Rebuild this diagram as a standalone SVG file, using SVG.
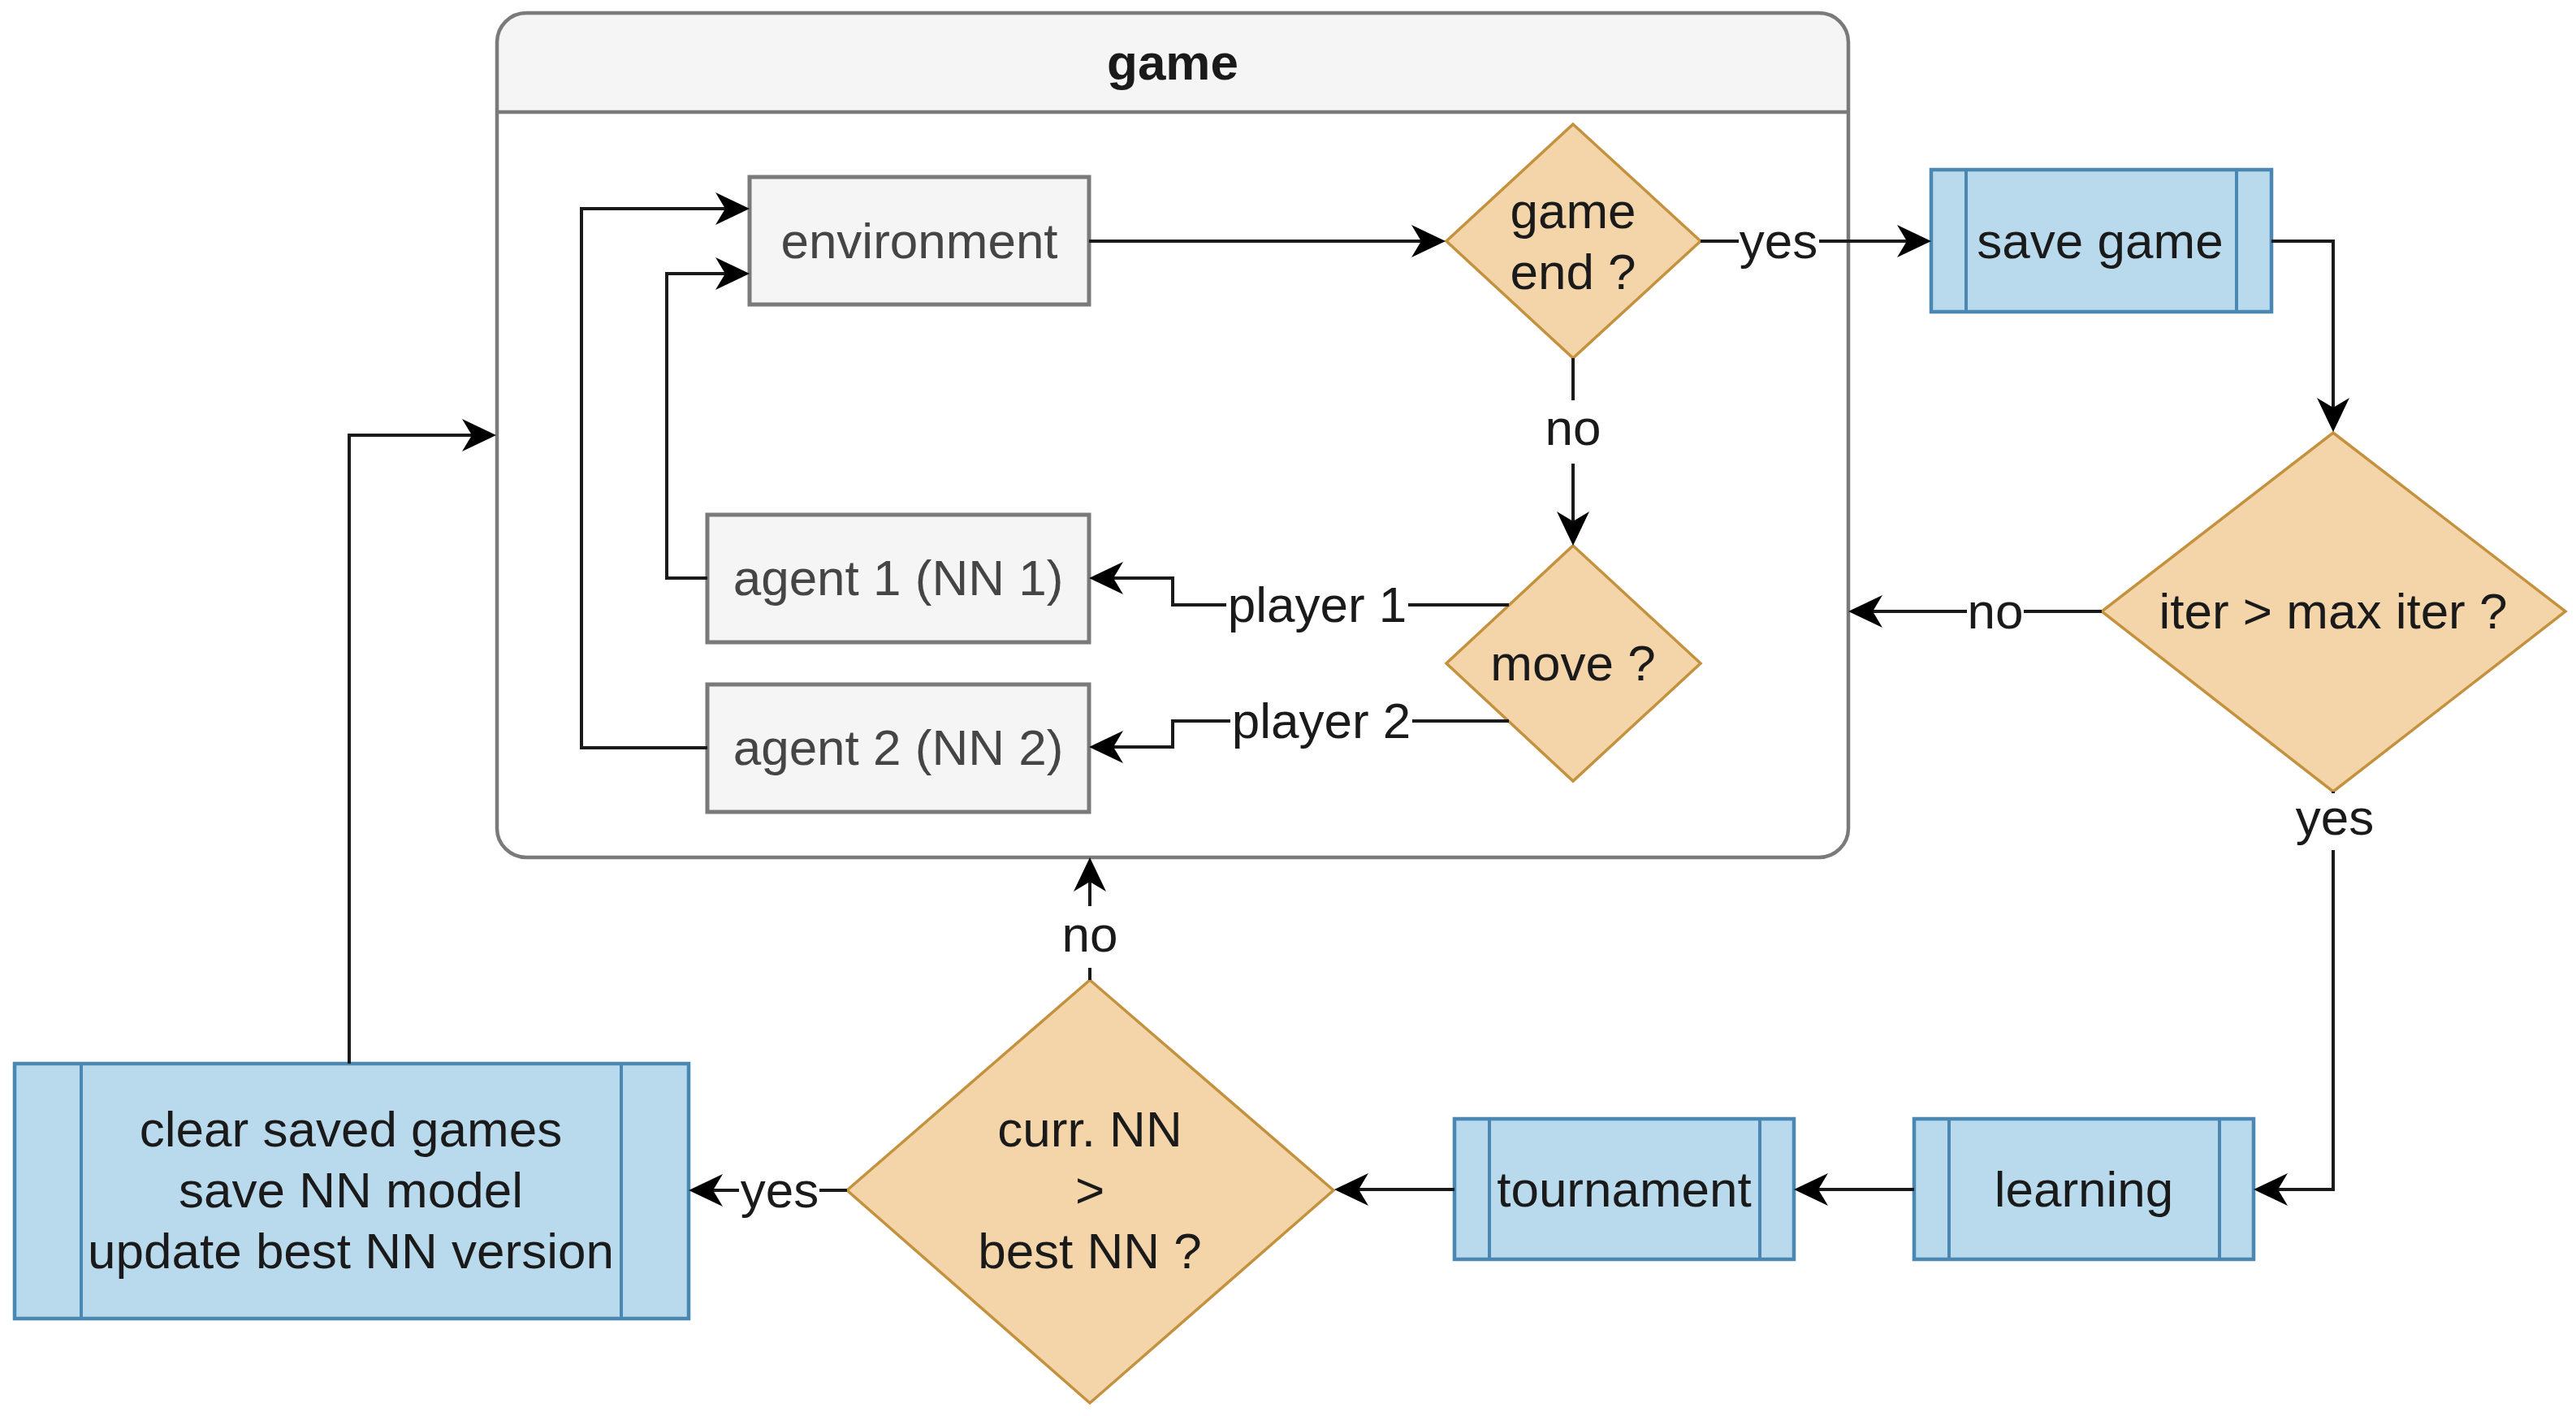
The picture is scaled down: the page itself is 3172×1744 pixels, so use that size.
<svg xmlns="http://www.w3.org/2000/svg" width="3172" height="1744" viewBox="0 0 3172 1744">
<style>
text{font-family:"Liberation Sans",Arial,sans-serif;font-size:62px;text-anchor:middle;fill:#1a1a1a}
.gray rect{fill:#f5f5f5;stroke:#7a7a7a;stroke-width:5}
.gray text{fill:#454545}
.dec polygon{fill:#f3d5a9;stroke:#c4913f;stroke-width:3.5}
.proc rect{fill:#b9daed;stroke:#4a87b3;stroke-width:4.5}
.proc line{stroke:#4a87b3;stroke-width:4}
.edge{fill:none;stroke:#1a1a1a;stroke-width:4;marker-end:url(#arr)}
.lbg{fill:#ffffff}
</style>
<defs>
<marker id="arr" markerUnits="userSpaceOnUse" markerWidth="42" markerHeight="42" viewBox="0 0 42 42" refX="38" refY="21" orient="auto">
<path d="M42,21 L0,1 L12,21 L0,41 Z" fill="#000"/>
</marker>
</defs>
<rect width="3172" height="1744" fill="#ffffff"/>

<g id="game">
<rect x="612" y="16" width="1664" height="1040" rx="36" fill="#ffffff"/>
<path d="M612,138 V52 Q612,16 648,16 H2240 Q2276,16 2276,52 V138 Z" fill="#f5f5f5"/>
<rect x="612" y="16" width="1664" height="1040" rx="36" fill="none" stroke="#7a7a7a" stroke-width="4.5"/>
<line x1="612" y1="138" x2="2276" y2="138" stroke="#7a7a7a" stroke-width="4.5"/>
<text x="1444" y="98" font-weight="bold">game</text>
</g>

<g id="environment" class="gray">
<rect x="923" y="218" width="418" height="157"/>
<text x="1132" y="318">environment</text>
</g>
<g id="agent1" class="gray">
<rect x="871" y="634" width="470" height="157"/>
<text x="1106" y="733">agent 1 (NN 1)</text>
</g>
<g id="agent2" class="gray">
<rect x="871" y="843" width="470" height="157"/>
<text x="1106" y="942">agent 2 (NN 2)</text>
</g>

<g id="game-end" class="dec">
<polygon points="1937,153 2094,297 1937,441 1781,297"/>
<text x="1937" y="281">game</text>
<text x="1937" y="356">end ?</text>
</g>
<g id="move" class="dec">
<polygon points="1937,672 2094,817 1937,962 1781,817"/>
<text x="1937" y="838">move ?</text>
</g>
<g id="iter" class="dec">
<polygon points="2873,533 3159,753 2873,975 2588,753"/>
<text x="2873" y="774">iter &gt; max iter ?</text>
</g>
<g id="curr-nn" class="dec">
<polygon points="1342,1207 1642,1466 1342,1728 1043,1466"/>
<text x="1342" y="1412">curr. NN</text>
<text x="1342" y="1487">&gt;</text>
<text x="1342" y="1562">best NN ?</text>
</g>

<g id="save-game" class="proc">
<rect x="2378" y="209" width="419" height="175"/>
<line x1="2421" y1="209" x2="2421" y2="384"/>
<line x1="2754" y1="209" x2="2754" y2="384"/>
<text x="2586" y="318">save game</text>
</g>
<g id="learning" class="proc">
<rect x="2357" y="1378" width="418" height="173"/>
<line x1="2400" y1="1378" x2="2400" y2="1551"/>
<line x1="2733" y1="1378" x2="2733" y2="1551"/>
<text x="2566" y="1486">learning</text>
</g>
<g id="tournament" class="proc">
<rect x="1791" y="1378" width="418" height="173"/>
<line x1="1834" y1="1378" x2="1834" y2="1551"/>
<line x1="2167" y1="1378" x2="2167" y2="1551"/>
<text x="2000" y="1486">tournament</text>
</g>
<g id="clear" class="proc">
<rect x="18" y="1310" width="830" height="314"/>
<line x1="100" y1="1310" x2="100" y2="1624"/>
<line x1="765" y1="1310" x2="765" y2="1624"/>
<text x="432" y="1412">clear saved games</text>
<text x="432" y="1487">save NN model</text>
<text x="432" y="1562">update best NN version</text>
</g>

<g id="connectors">
<path class="edge" d="M1341,297 H1776"/>
<path class="edge" d="M2094,297 H2374"/>
<path class="edge" d="M2797,297 H2873 V528"/>
<path class="edge" d="M1937,441 V668"/>
<path class="edge" d="M2588,753 H2280"/>
<path class="edge" d="M2873,975 V1465 H2779"/>
<path class="edge" d="M2357,1465 H2213"/>
<path class="edge" d="M1791,1465 H1647"/>
<path class="edge" d="M1043,1466 H852"/>
<path class="edge" d="M1342,1207 V1060"/>
<path class="edge" d="M430,1310 V536 H607"/>
<path class="edge" d="M1858,745 H1444 V712 H1345"/>
<path class="edge" d="M1858,888 H1444 V920 H1345"/>
<path class="edge" d="M871,712 H821 V337 H919"/>
<path class="edge" d="M871,921 H716 V257 H919"/>

<rect class="lbg" x="2141" y="262" width="99" height="70"/>
<text x="2190" y="318">yes</text>
<rect class="lbg" x="1902" y="493" width="70" height="78"/>
<text x="1937" y="548">no</text>
<rect class="lbg" x="2422" y="718" width="70" height="70"/>
<text x="2457" y="774">no</text>
<rect class="lbg" x="2824" y="977" width="98" height="70"/>
<text x="2875" y="1028">yes</text>
<rect class="lbg" x="1510" y="710" width="224" height="70"/>
<text x="1622" y="766">player 1</text>
<rect class="lbg" x="1515" y="853" width="224" height="70"/>
<text x="1627" y="909">player 2</text>
<rect class="lbg" x="1307" y="1116" width="70" height="76"/>
<text x="1342" y="1172">no</text>
<rect class="lbg" x="910" y="1431" width="99" height="70"/>
<text x="960" y="1487">yes</text>
</g>
</svg>
